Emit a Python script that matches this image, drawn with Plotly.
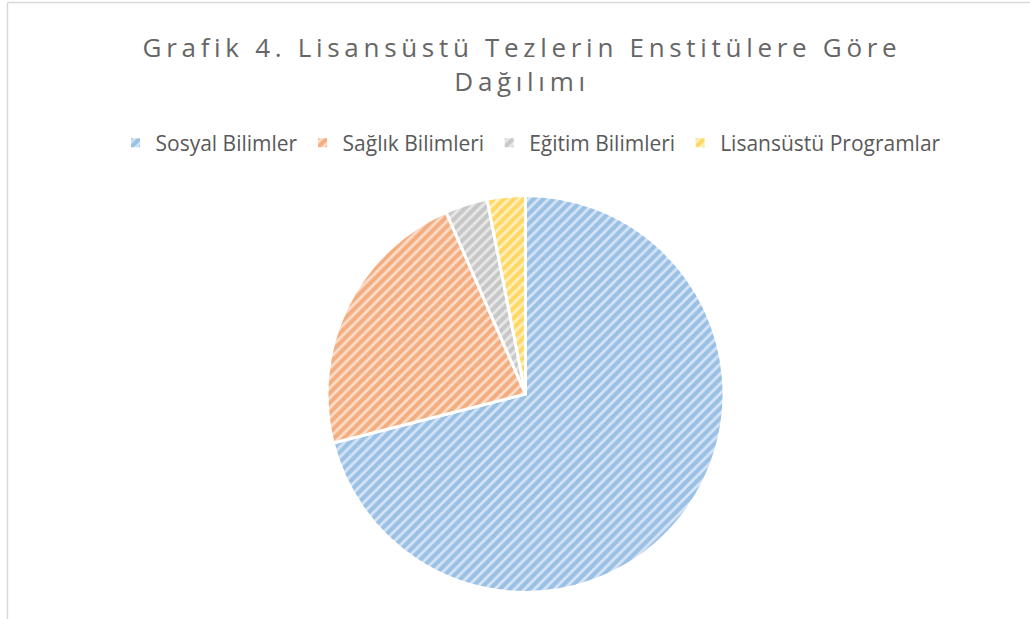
import plotly.graph_objects as go

categories = ["Sosyal Bilimler", "Sağlık Bilimleri", "Eğitim Bilimleri", "Lisansüstü Programlar"]
values = [206, 65, 10, 9]
main_colors = ["#5B9BD5", "#ED7D31", "#A5A5A5", "#FFC000"]
light_colors = ["#D6E4F5", "#FBDDCB", "#E8E8E8", "#FFEFC2"]

title_line1 = "Grafik 4. Lisansüstü Tezlerin Enstitülere Göre"
title_line2 = "Dağılımı"

W, H = 1030, 619
cx, cy, r = 525.5, 394.0, 198.5

fig = go.Figure(go.Pie(
    labels=categories,
    values=values,
    sort=False,
    direction="clockwise",
    rotation=0,
    textinfo="none",
    hoverinfo="label+value+percent",
    marker=dict(
        colors=light_colors,
        line=dict(color="white", width=3),
        pattern=dict(shape="/", fgcolor=main_colors, bgcolor=light_colors,
                     size=7, solidity=0.6, fillmode="overlay"),
    ),
    domain=dict(x=[(cx - 500) / W, (cx + 500) / W],
                y=[(H - cy - r) / H, (H - cy + r) / H]),
))

span = '<span style="letter-spacing:4.7px">{}</span>'
fig.update_layout(
    width=W, height=H,
    margin=dict(l=0, r=0, t=0, b=0),
    paper_bgcolor="white",
    plot_bgcolor="white",
    title=dict(
        text=span.format(title_line1) + "<br>" + span.format(title_line2),
        x=522 / W, xanchor="center",
        y=(H - 57) / H, yanchor="middle",
        font=dict(family="Open Sans", size=26, color="#666666"),
    ),
    legend=dict(
        orientation="h",
        x=531 / W, xanchor="center",
        y=(H - 143) / H, yanchor="middle",
        font=dict(family="Open Sans", size=21, color="#595959"),
        itemclick=False,
    ),
    shapes=[
        dict(type="line", xref="paper", yref="paper",
             x0=7.5 / W, x1=7.5 / W, y0=-0.05, y1=(H - 2.5) / H,
             line=dict(color="#D9D9D9", width=1.5)),
        dict(type="line", xref="paper", yref="paper",
             x0=7.5 / W, x1=1.05, y0=(H - 2.5) / H, y1=(H - 2.5) / H,
             line=dict(color="#D9D9D9", width=1.5)),
    ],
)

fig.write_html("out.html", config={"displayModeBar": False},
               post_script="document.body.style.margin='0px';")
